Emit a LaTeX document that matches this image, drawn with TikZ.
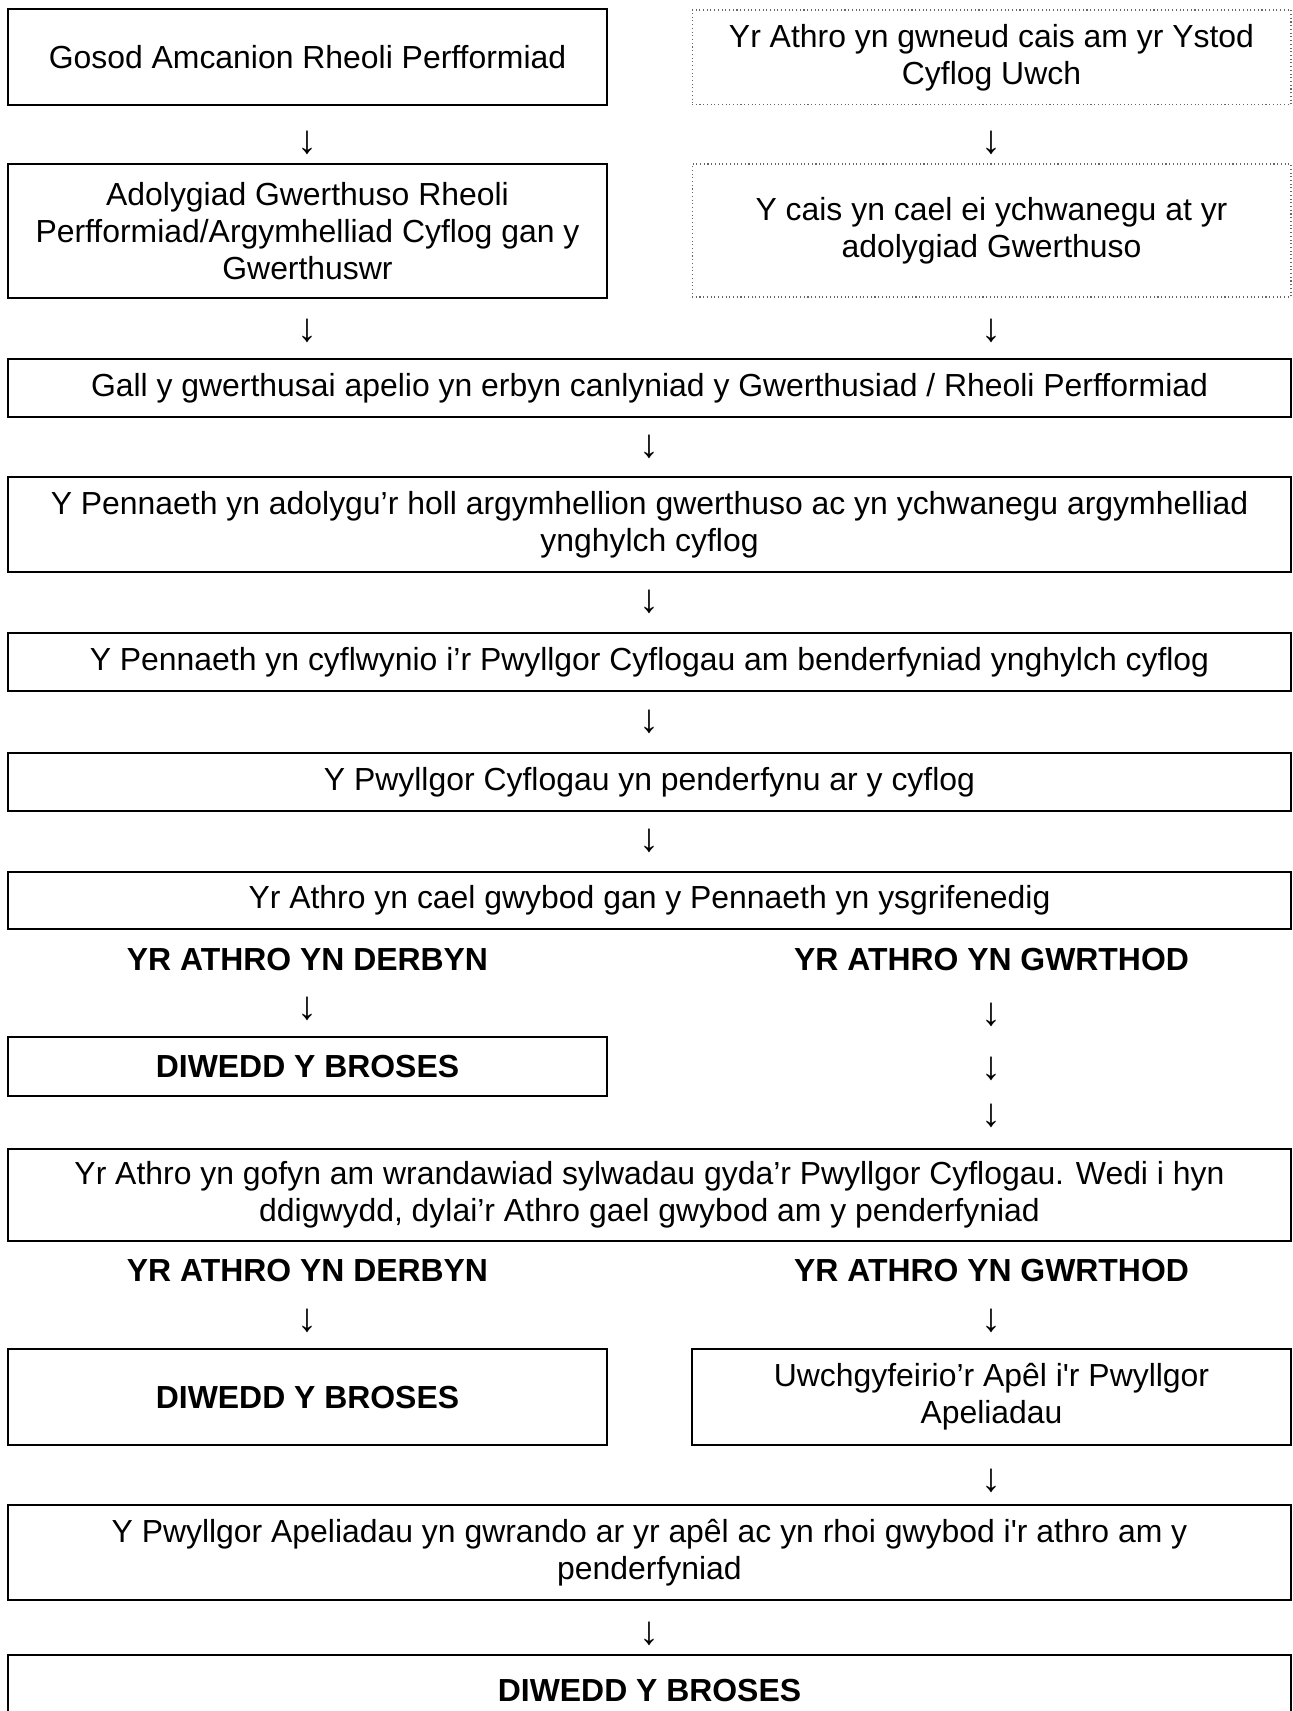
\documentclass[tikz,border=0pt]{standalone}
\usepackage{fontspec}
\setmainfont{Liberation Sans}
\usepackage{tikz}

\tikzset{
    box/.style={draw, line width=0.75pt, inner sep=0pt, align=center,
        font=\fontsize{12}{13.8}\selectfont},
    dotbox/.style={box, draw=black!60, line width=0.4pt, densely dotted},
    half/.style={minimum width=225.2pt},
    wide/.style={minimum width=482.4pt},
    lbl/.style={inner sep=0pt, font=\fontsize{12}{13.8}\selectfont\bfseries},
    arr/.style={inner sep=0pt, font=\fontsize{15}{16}\selectfont}
}

\begin{document}
\begin{tikzpicture}[x=0.376pt, y=-0.376pt]
        \useasboundingbox (0,0) rectangle (1292,1711);

        % Top: two columns
        \node[box, half, minimum height=36.1pt] (gosod) at (307.5,57)
            {Gosod Amcanion Rheoli Perfformiad};
        \node[dotbox, half, minimum height=35.7pt] (cais) at (991.5,57.5)
            {Yr Athro yn gwneud cais am yr Ystod\\Cyflog Uwch};
        \node[arr] (a1) at (307.5,143) {↓};
        \node[arr] (a2) at (991.5,143) {↓};
        \node[box, half, minimum height=50.4pt] (adolygiad) at (307.5,231)
            {Adolygiad Gwerthuso Rheoli\\Perfformiad/Argymhelliad Cyflog gan y\\Gwerthuswr};
        \node[dotbox, half, minimum height=50pt] (ychwanegu) at (991.5,230.5)
            {Y cais yn cael ei ychwanegu at yr\\adolygiad Gwerthuso};
        \node[arr] (a3) at (307.5,331) {↓};
        \node[arr] (a4) at (991.5,331) {↓};

        % Main column
        \node[box, wide, minimum height=21.8pt] (apelio) at (649.5,388)
            {Gall y gwerthusai apelio yn erbyn canlyniad y Gwerthusiad / Rheoli Perfformiad};
        \node[arr] (a5) at (649.5,447) {↓};
        \node[box, wide, minimum height=35.7pt] (pennaeth) at (649.5,524.5)
            {Y Pennaeth yn adolygu’r holl argymhellion gwerthuso ac yn ychwanegu argymhelliad\\ynghylch cyflog};
        \node[arr] (a6) at (649.5,602) {↓};
        \node[box, wide, minimum height=21.8pt] (cyflwyno) at (649.5,662)
            {Y Pennaeth yn cyflwynio i’r Pwyllgor Cyflogau am benderfyniad ynghylch cyflog};
        \node[arr] (a7) at (649.5,722) {↓};
        \node[box, wide, minimum height=21.8pt] (penderfynu) at (649.5,782)
            {Y Pwyllgor Cyflogau yn penderfynu ar y cyflog};
        \node[arr] (a8) at (649.5,841) {↓};
        \node[box, wide, minimum height=21.4pt] (gwybod) at (649.5,900.5)
            {Yr Athro yn cael gwybod gan y Pennaeth yn ysgrifenedig};

        % First decision
        \node[lbl] (derbyn1) at (307.5,960) {YR ATHRO YN DERBYN};
        \node[lbl] (gwrthod1) at (991.5,960) {YR ATHRO YN GWRTHOD};
        \node[arr] (a9) at (307.5,1009) {↓};
        \node[box, half, minimum height=22.2pt, font=\fontsize{12}{13.8}\selectfont\bfseries]
            (diwedd1) at (307.5,1066.5) {DIWEDD Y BROSES};
        \foreach \y [count=\i] in {1015,1069,1116}
            \node[arr] (b\i) at (991.5,\y) {↓};
        \node[box, wide, minimum height=34.6pt] (gwrandawiad) at (649.5,1195)
            {Yr Athro yn gofyn am wrandawiad sylwadau gyda’r Pwyllgor Cyflogau. Wedi i hyn\\ddigwydd, dylai’r Athro gael gwybod am y penderfyniad};

        % Second decision
        \node[lbl] (derbyn2) at (307.5,1271) {YR ATHRO YN DERBYN};
        \node[lbl] (gwrthod2) at (991.5,1271) {YR ATHRO YN GWRTHOD};
        \node[arr] (a10) at (307.5,1321) {↓};
        \node[arr] (a11) at (991.5,1321) {↓};
        \node[box, half, minimum height=36.1pt, font=\fontsize{12}{13.8}\selectfont\bfseries]
            (diwedd2) at (307.5,1397) {DIWEDD Y BROSES};
        \node[box, half, minimum height=36.1pt] (uwchgyfeirio) at (991.5,1397)
            {Uwchgyfeirio’r Apêl i\textquotesingle r Pwyllgor\\Apeliadau};
        \node[arr] (a12) at (991.5,1481) {↓};

        % Appeals
        \node[box, wide, minimum height=35.7pt] (apeliadau) at (649.5,1552.5)
            {Y Pwyllgor Apeliadau yn gwrando ar yr apêl ac yn rhoi gwybod i\textquotesingle r athro am y\\penderfyniad};
        \node[arr] (a13) at (649.5,1634) {↓};
        \node[box, wide, minimum height=26.3pt, font=\fontsize{12}{13.8}\selectfont\bfseries]
            (diwedd3) at (649.5,1690) {DIWEDD Y BROSES};
    \end{tikzpicture}
\end{document}
